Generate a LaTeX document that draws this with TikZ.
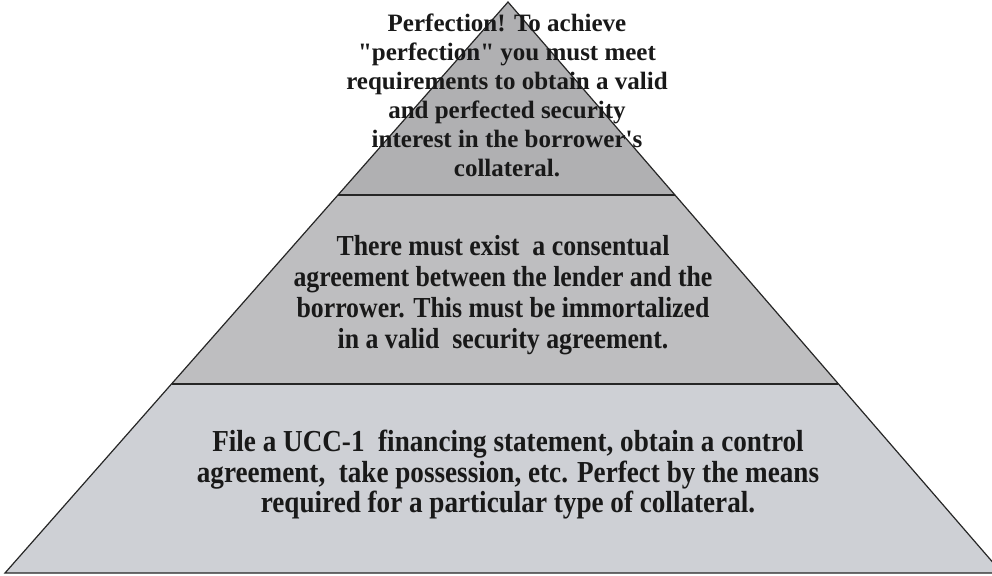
\documentclass[tikz,border=0pt]{standalone}
\usetikzlibrary{calc}
\usepackage{fontspec}
\setmainfont{Liberation Serif}
\newfontfamily\condbf[FakeStretch=0.89]{Liberation Serif}
\begin{document}
\begin{tikzpicture}[x=1pt,y=-1pt,
  edge/.style={draw=black!85,line width=1.2pt,line join=miter},
  toptxt/.style={align=center,font=\fontsize{25}{29}\selectfont\bfseries,text=black!90},
  midtxt/.style={align=center,font=\condbf\fontsize{29}{31}\selectfont\bfseries,text=black!90},
  bottxt/.style={align=center,font=\condbf\fontsize{30.5}{30.5}\selectfont\bfseries,text=black!90}]
\useasboundingbox (0,0) rectangle (992,575);
\clip (0,0) rectangle (992,575);
\coordinate (A) at (508,2);
\coordinate (BL) at (5,573);
\coordinate (BR) at (1002,573);
\coordinate (L1) at ($(A)!{193/571}!(BL)$);
\coordinate (R1) at ($(A)!{193/571}!(BR)$);
\coordinate (L2) at ($(A)!{382/571}!(BL)$);
\coordinate (R2) at ($(A)!{382/571}!(BR)$);
\fill[fill={rgb,255:red,176;green,176;blue,178}] (A) -- (R1) -- (L1) -- cycle;
\fill[fill={rgb,255:red,190;green,190;blue,192}] (L1) -- (R1) -- (R2) -- (L2) -- cycle;
\fill[fill={rgb,255:red,206;green,208;blue,213}] (L2) -- (R2) -- (BR) -- (BL) -- cycle;
\draw[edge] (L1) -- (R1);
\draw[edge] (L2) -- (R2);
\draw[edge] (A) -- (BL) -- (BR) -- cycle;
\node[toptxt] (t1) at (507,95) {Perfection! To achieve\\ \textquotedbl perfection\textquotedbl{} you must meet\\ requirements to obtain a valid\\ and perfected security\\ interest in the borrower\textquotesingle s\\ collateral.};
\node[midtxt] (t2) at (503,295) {There must exist\ \ a consentual\\ agreement between the lender and the\\ borrower. This must be immortalized\\ in a valid\ \ security agreement.};
\node[bottxt] (t3) at (508,475) {File a UCC-1\ \ financing statement, obtain a control\\ agreement,\ \ take possession, etc. Perfect by the means\\ required for a particular type of collateral.};
\end{tikzpicture}
\end{document}
